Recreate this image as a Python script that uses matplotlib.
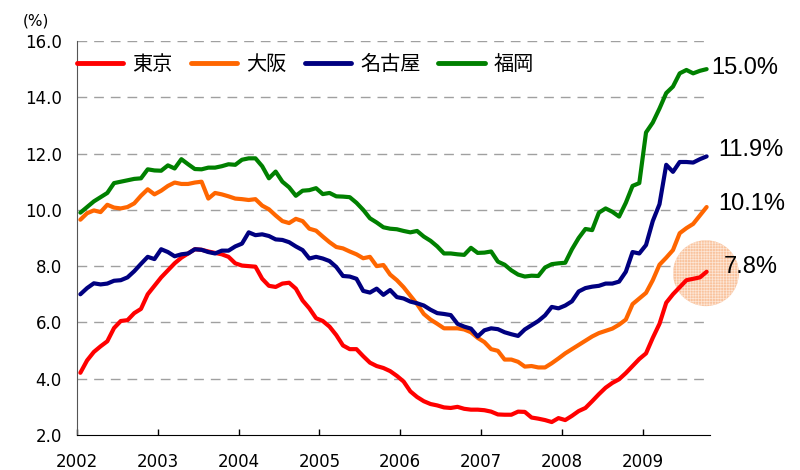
import numpy as np
import matplotlib
matplotlib.use("Agg")
import matplotlib.pyplot as plt

plt.rcParams['font.family'] = ['DejaVu Sans', 'Noto Sans CJK JP']
plt.rcParams['hatch.linewidth'] = 0.5

# monthly office vacancy rate (%), Jan 2002 - Oct 2009
years = ["2002", "2003", "2004", "2005", "2006", "2007", "2008", "2009"]

tokyo = [
    4.21, 4.65, 4.95, 5.15, 5.33, 5.80, 6.05, 6.08, 6.33, 6.48, 7.00, 7.30,
    7.60, 7.85, 8.10, 8.30, 8.45, 8.60, 8.58, 8.52, 8.47, 8.42, 8.33, 8.10,
    8.02, 8.00, 7.98, 7.55, 7.30, 7.26, 7.38, 7.41, 7.20, 6.78, 6.50, 6.15,
    6.05, 5.85, 5.55, 5.18, 5.05, 5.05, 4.80, 4.57, 4.45, 4.38, 4.27, 4.10,
    3.90, 3.55, 3.35, 3.20, 3.10, 3.05, 2.98, 2.96, 3.00, 2.93, 2.90, 2.90,
    2.88, 2.83, 2.73, 2.72, 2.72, 2.83, 2.82, 2.62, 2.58, 2.53, 2.46, 2.60,
    2.53, 2.68, 2.85, 2.96, 3.20, 3.45, 3.68, 3.85, 3.98, 4.20, 4.45, 4.70,
    4.90, 5.45, 5.95, 6.70, 7.00, 7.25, 7.50, 7.55, 7.60, 7.80,
]
osaka = [
    9.65, 9.88, 9.98, 9.92, 10.18, 10.08, 10.05, 10.10, 10.23, 10.50, 10.73, 10.55,
    10.68, 10.85, 10.97, 10.92, 10.92, 10.97, 11.00, 10.40, 10.60, 10.55, 10.48, 10.40,
    10.38, 10.35, 10.38, 10.15, 10.02, 9.80, 9.60, 9.53, 9.68, 9.60, 9.33, 9.26,
    9.05, 8.85, 8.68, 8.63, 8.52, 8.42, 8.28, 8.33, 8.00, 8.04, 7.70, 7.50,
    7.25, 6.95, 6.65, 6.30, 6.10, 5.95, 5.79, 5.79, 5.79, 5.75, 5.65, 5.45,
    5.30, 5.05, 4.99, 4.68, 4.68, 4.60, 4.43, 4.45, 4.40, 4.40, 4.55, 4.72,
    4.90, 5.05, 5.20, 5.35, 5.50, 5.62, 5.70, 5.78, 5.92, 6.10, 6.65, 6.85,
    7.05, 7.50, 8.05, 8.30, 8.57, 9.17, 9.35, 9.50, 9.80, 10.10,
]
nagoya = [
    7.00, 7.22, 7.39, 7.35, 7.38, 7.48, 7.50, 7.60, 7.82, 8.08, 8.33, 8.25,
    8.60, 8.50, 8.35, 8.42, 8.45, 8.60, 8.58, 8.50, 8.45, 8.55, 8.55, 8.70,
    8.80, 9.20, 9.10, 9.13, 9.07, 8.95, 8.93, 8.85, 8.70, 8.57, 8.27, 8.33,
    8.27, 8.18, 7.97, 7.65, 7.63, 7.55, 7.12, 7.06, 7.20, 6.98, 7.15, 6.90,
    6.85, 6.74, 6.68, 6.60, 6.45, 6.33, 6.30, 6.26, 5.95, 5.85, 5.78, 5.50,
    5.72, 5.79, 5.76, 5.65, 5.58, 5.52, 5.75, 5.90, 6.05, 6.25, 6.55, 6.50,
    6.60, 6.75, 7.10, 7.22, 7.27, 7.30, 7.38, 7.38, 7.45, 7.80, 8.50, 8.45,
    8.75, 9.60, 10.20, 11.60, 11.35, 11.70, 11.70, 11.68, 11.80, 11.90,
]
fukuoka = [
    9.90, 10.10, 10.30, 10.45, 10.60, 10.95, 11.00, 11.05, 11.10, 11.12, 11.44, 11.40,
    11.39, 11.58, 11.47, 11.80, 11.62, 11.45, 11.44, 11.50, 11.50, 11.55, 11.62, 11.60,
    11.78, 11.83, 11.83, 11.55, 11.12, 11.36, 11.00, 10.80, 10.50, 10.68, 10.70, 10.77,
    10.56, 10.60, 10.48, 10.47, 10.45, 10.25, 10.00, 9.70, 9.55, 9.38, 9.33, 9.31,
    9.25, 9.20, 9.25, 9.05, 8.90, 8.70, 8.45, 8.45, 8.42, 8.40, 8.65, 8.47,
    8.48, 8.52, 8.16, 8.05, 7.85, 7.70, 7.63, 7.66, 7.65, 7.95, 8.07, 8.10,
    8.12, 8.60, 9.00, 9.32, 9.28, 9.90, 10.05, 9.93, 9.76, 10.25, 10.85, 10.95,
    12.75, 13.10, 13.60, 14.15, 14.38, 14.85, 14.97, 14.85, 14.94, 15.00,
]

series = [
    ("東京", tokyo, "#ff0000"),
    ("大阪", osaka, "#ff6600"),
    ("名古屋", nagoya, "#000080"),
    ("福岡", fukuoka, "#008000"),
]
# label offsets (points) for the latest value at the end of each line
end_offsets = {"東京": (12, 3.5), "大阪": (8.5, 2), "名古屋": (8.5, 4.5), "福岡": (3.5, 1)}

n = len(tokyo)
x = np.arange(n) + 0.5

fig = plt.figure(figsize=(8, 4.7), dpi=100)
ax = fig.add_axes([0.09625, 0.0745, 0.79125, 0.8383])

for name, vals, color in series:
    ax.plot(x, vals, color=color, lw=3, label=name, solid_capstyle='round', zorder=3)

for name, vals, color in series:
    dx, dy = end_offsets[name]
    ax.annotate(f"{vals[-1]:.1f}%", (x[-1], vals[-1]), xytext=(dx, dy),
                textcoords='offset points', ha='left', va='center',
                fontsize=17, family=['Liberation Sans'], annotation_clip=False,
                zorder=6)

# highlight around the latest Tokyo value
ax.scatter([x[-1] - 0.1], [tokyo[-1] - 0.05], s=2250, facecolor='#f9c39e', edgecolor='#fde6d6',
           hatch='++++++', linewidth=0, zorder=2, clip_on=False)

ax.set_xlim(0, n)
ax.set_ylim(2, 16)
ax.set_xticks(np.arange(len(years)) * 12)
ax.set_xticklabels(years)
ax.set_yticks(np.arange(2, 17, 2))
ax.set_yticklabels([f"{v:.1f}" for v in np.arange(2, 17, 2)])

for v in np.arange(4, 17, 2):
    ax.axhline(v, color='#a0a0a0', lw=1, ls=(0, (7, 5)), zorder=1)

ax.tick_params(axis='x', direction='in', length=4, width=1, pad=13, labelsize=12)
ax.tick_params(axis='y', length=0, pad=11, labelsize=12)
for s in ['top', 'right']:
    ax.spines[s].set_visible(False)
ax.spines['left'].set_color('#555555')
ax.spines['bottom'].set_color('black')

fig.text(0.028, 0.955, "(%)", fontsize=11, ha='left', va='center')

leg = ax.legend(loc='upper left', bbox_to_anchor=(0.0, 0.968), ncol=4, frameon=False,
                handlelength=2.3, handletextpad=0.45, columnspacing=0.9,
                borderaxespad=0, borderpad=0,
                prop={'family': ['Noto Sans CJK JP'], 'size': 14.5})
for line in leg.get_lines():
    line.set_linewidth(3.5)

fig.savefig("out.png", dpi=100)
